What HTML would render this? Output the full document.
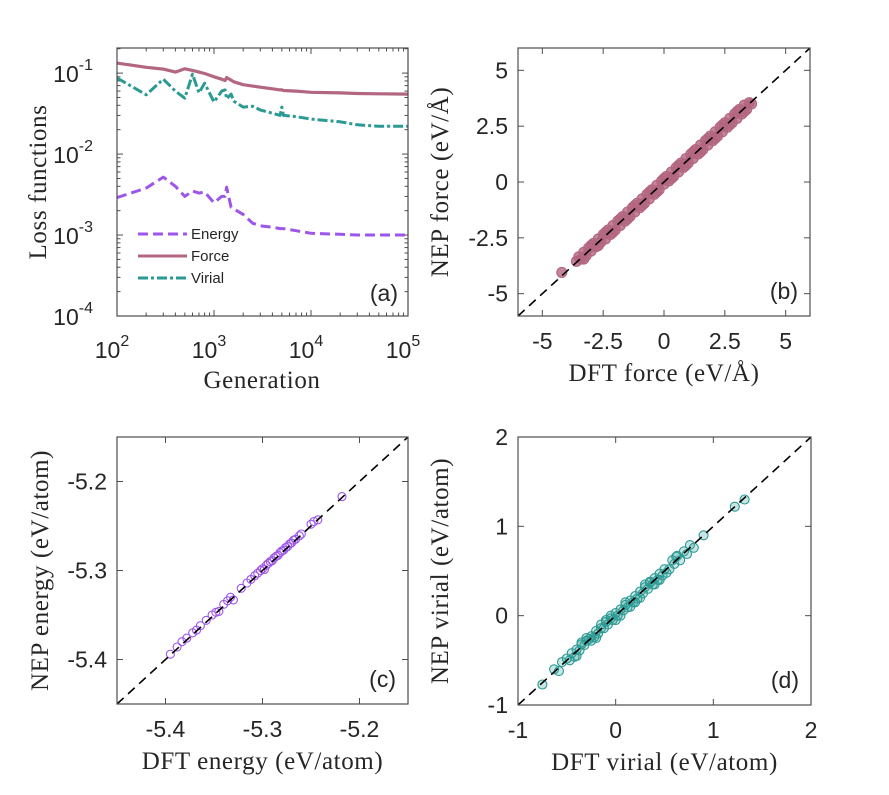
<!DOCTYPE html>
<html><head><meta charset="utf-8">
<style>
body{margin:0;background:#fff;}
svg{display:block;font-family:"Liberation Sans",Arial,sans-serif;}
.t{font-size:23px;fill:#262626;}
.ser{font-family:"Liberation Serif","Times New Roman",serif;font-size:25px;letter-spacing:0.6px;fill:#262626;}
</style></head>
<body>
<svg id="fig" width="889" height="795" viewBox="0 0 889 795">
</svg>
<script>
// ---------- Panel (a) data ----------
const lossGens = [100,200,300,400,500,600,700,800,1000,1200,1300,1350,1500,1600,2000,2500,3000,4000,4800,5000,5200,7000,10000,20000,30000,50000,100000];
const lossForce = [0.133,0.118,0.112,0.103,0.113,0.108,0.103,0.099,0.090,0.084,0.081,0.088,0.082,0.078,0.072,0.069,0.067,0.064,0.062,0.062,0.061,0.060,0.058,0.057,0.056,0.0555,0.055];
const lossVirial = [0.087,0.054,0.084,0.060,0.049,0.097,0.057,0.075,0.044,0.060,0.062,0.048,0.055,0.045,0.038,0.039,0.035,0.032,0.030,0.038,0.030,0.029,0.027,0.025,0.023,0.022,0.022];
const lossEnergy = [0.0029,0.0038,0.0052,0.0040,0.0030,0.0035,0.0033,0.0034,0.0025,0.0030,0.0030,0.0039,0.0022,0.0021,0.0018,0.0014,0.0013,0.00125,0.0012,0.0012,0.0012,0.00113,0.00105,0.00102,0.001,0.001,0.001];
const logXTicks = ["2","3","4","5"];
const logYTicks = ["-4","-3","-2","-1"];
// ---------- Panel (b) data: DFT force vs NEP force ----------
const forceDFT = [-4.2,-3.6,-3.5,-3.4,-3.3,-3.2,-3.1,-3.0,-2.9,-2.8,-2.7,-2.6,-2.5,-2.4,-2.3,-2.2,-2.1,-2.0,-1.9,-1.8,-1.7,-1.6,-1.5,-1.4,-1.3,-1.2,-1.1,-1.0,-0.9,-0.8,-0.7,-0.6,-0.5,-0.4,-0.3,-0.2,-0.1,0.0,0.1,0.2,0.3,0.4,0.5,0.6,0.7,0.8,0.9,1.0,1.1,1.2,1.3,1.4,1.5,1.6,1.7,1.8,1.9,2.0,2.1,2.2,2.3,2.4,2.5,2.6,2.7,2.8,2.9,3.0,3.1,3.2,3.3,3.4,3.5,3.6,
 -3.3,-3.0,-2.7,-2.4,-2.1,-1.8,-1.5,-1.2,-0.9,-0.6,-0.3,0.0,0.3,0.6,0.9,1.2,1.5,1.8,2.1,2.4,2.7,3.0,3.3];
const forceNEP = [-4.05,-3.55,-3.35,-3.45,-3.15,-3.3,-2.95,-3.1,-2.75,-2.9,-2.55,-2.7,-2.35,-2.55,-2.15,-2.35,-1.95,-2.15,-1.75,-1.95,-1.55,-1.75,-1.35,-1.55,-1.15,-1.35,-0.95,-1.15,-0.75,-0.95,-0.55,-0.75,-0.35,-0.55,-0.15,-0.35,0.05,-0.1,0.25,0.05,0.45,0.25,0.65,0.45,0.85,0.65,1.05,0.85,1.25,1.05,1.45,1.25,1.65,1.45,1.85,1.65,2.05,1.85,2.25,2.05,2.45,2.25,2.65,2.45,2.85,2.65,3.05,2.85,3.25,3.05,3.45,3.25,3.55,3.5,
 -3.45,-2.85,-2.85,-2.25,-2.25,-1.65,-1.65,-1.05,-1.05,-0.45,-0.45,0.15,0.15,0.75,0.75,1.35,1.35,1.95,1.95,2.55,2.55,3.15,3.15];
// ---------- Panel (c) data: DFT energy vs NEP energy ----------
const energyDFT = [-5.395,-5.388,-5.383,-5.378,-5.372,-5.368,-5.364,-5.358,-5.352,-5.348,-5.345,-5.340,-5.336,-5.333,-5.330,-5.322,-5.316,-5.312,-5.308,-5.305,-5.302,-5.300,-5.298,-5.296,-5.294,-5.292,-5.290,-5.288,-5.286,-5.284,-5.282,-5.280,-5.278,-5.276,-5.274,-5.272,-5.270,-5.268,-5.266,-5.262,-5.260,-5.250,-5.247,-5.243,-5.218];
const energyNEP = [-5.394,-5.386,-5.380,-5.376,-5.370,-5.367,-5.362,-5.356,-5.350,-5.347,-5.346,-5.338,-5.334,-5.330,-5.333,-5.320,-5.314,-5.310,-5.306,-5.303,-5.300,-5.298,-5.299,-5.294,-5.292,-5.290,-5.289,-5.286,-5.284,-5.283,-5.280,-5.278,-5.277,-5.274,-5.273,-5.270,-5.269,-5.266,-5.265,-5.261,-5.259,-5.248,-5.245,-5.243,-5.217];
// ---------- Panel (d) data: DFT virial vs NEP virial ----------
const virialDFT = [-0.75,-0.63,-0.58,-0.55,-0.50,-0.47,-0.45,-0.42,-0.40,-0.37,-0.35,-0.32,-0.30,-0.27,-0.25,-0.22,-0.20,-0.18,-0.15,-0.12,-0.10,-0.08,-0.05,-0.03,0.0,0.02,0.05,0.08,0.10,0.12,0.15,0.18,0.20,0.22,0.25,0.28,0.30,0.33,0.35,0.38,0.40,0.43,0.45,0.48,0.50,0.55,0.58,0.60,0.63,0.66,0.70,0.73,0.76,0.80,0.90,1.22,1.32,
 -0.40,-0.30,-0.20,-0.10,0.0,0.10,0.20,0.30,0.40,-0.15,0.05,0.25,0.45,-0.35,-0.25,-0.05,0.15,0.35,0.52,0.62];
const virialNEP = [-0.77,-0.60,-0.62,-0.52,-0.48,-0.50,-0.42,-0.46,-0.38,-0.39,-0.32,-0.33,-0.28,-0.26,-0.23,-0.24,-0.17,-0.20,-0.14,-0.14,-0.07,-0.10,-0.03,-0.05,0.03,0.0,0.07,0.06,0.12,0.09,0.17,0.15,0.22,0.19,0.27,0.25,0.32,0.30,0.37,0.35,0.42,0.40,0.47,0.45,0.52,0.52,0.62,0.58,0.67,0.62,0.72,0.69,0.79,0.76,0.90,1.22,1.30,
 -0.45,-0.25,-0.25,-0.05,-0.05,0.15,0.15,0.35,0.35,-0.10,0.0,0.20,0.40,-0.30,-0.28,0.0,0.10,0.38,0.48,0.66];
const linTicksB = ["-5","-2.5","0","2.5","5"];
const linTicksC = ["-5.4","-5.3","-5.2"];
const linTicksD = ["-1","0","1","2"];

const NS="http://www.w3.org/2000/svg";
const svg=document.getElementById('fig');
function el(tag,attrs,parent){const e=document.createElementNS(NS,tag);for(const k in attrs)e.setAttribute(k,attrs[k]);(parent||svg).appendChild(e);return e;}

function makeAxes(name){
  const g=el('g',{});
  
  
  return g;
}
function frame(g,L,R,T,B){
  const f=el('rect',{x:L,y:T,width:R-L,height:B-T,fill:'none',stroke:'#4d4d4d','stroke-width':1.2},g);
  
  
}
function txt(g,x,y,s,cls,anchor,name,rot){
  const t=el('text',{x:x,y:y,class:cls,'text-anchor':anchor||'middle'},g);
  if(rot)t.setAttribute('transform','rotate(-90 '+x+' '+y+')');
  t.textContent=s;
  
  
  return t;
}

// ===== Panel (a) =====
(function(){
  const L=117,R=408,T=48,B=316;
  const g=makeAxes('panel-a-loss');
  const xs=v=>L+(Math.log10(v)-2)/3*(R-L);
  const ymin=-4,ymax=-0.69;
  const ys=v=>B-(Math.log10(v)-ymin)/(ymax-ymin)*(B-T);
  for(let d=2;d<=5;d++){
    for(let m=1;m<=9;m++){
      const v=Math.pow(10,d)*m; if(v>1e5)break;
      const x=xs(v),len=m===1?6:3.5;
      el('line',{x1:x,x2:x,y1:B,y2:B-len,stroke:'#4d4d4d'},g);
      el('line',{x1:x,x2:x,y1:T,y2:T+len,stroke:'#4d4d4d'},g);
    }
  }
  for(let d=-4;d<=-1;d++){
    for(let m=1;m<=9;m++){
      const v=Math.pow(10,d)*m; if(ys(v)<T)break;
      const y=ys(v),len=m===1?6:3.5;
      el('line',{x1:L,x2:L+len,y1:y,y2:y,stroke:'#4d4d4d'},g);
      el('line',{x1:R,x2:R-len,y1:y,y2:y,stroke:'#4d4d4d'},g);
    }
  }
  logXTicks.forEach(e=>{
    const x=xs(Math.pow(10,+e));
    const t=txt(g,x-5,358,'10','t','middle','x-tick-label');
    const s=el('tspan',{dy:-12,'font-size':16},t);s.textContent=e;
  });
  logYTicks.forEach(e=>{
    const y=ys(Math.pow(10,+e));
    const t=txt(g,L-24,y+9,'10','t','end','y-tick-label');
    const s=el('tspan',{dy:-12,'font-size':16},t);s.textContent=e;
  });
  function series(vals,color,dash,name,w){
    const pts=lossGens.map((x,i)=>xs(x).toFixed(1)+','+ys(vals[i]).toFixed(1)).join(' ');
    const p=el('polyline',{points:pts,fill:'none',stroke:color,'stroke-width':w,'stroke-dasharray':dash,'stroke-linejoin':'round'},g);
    
    
  }
  series(lossEnergy,'#9d55ea','10 5','energy-loss-line',3);
  series(lossVirial,'#2b9a93','10 3 3 3','virial-loss-line',3);
  series(lossForce,'#b3667f','','force-loss-line',3.2);
  frame(g,L,R,T,B);
  const lg=el('g',{},g);
  
  
  const ent=[['Energy','#9d55ea','10 5',234],['Force','#b3667f','',256],['Virial','#2b9a93','10 3 3 3',278]];
  ent.forEach(e=>{
    el('line',{x1:138,x2:187,y1:e[3],y2:e[3],stroke:e[1],'stroke-width':3,'stroke-dasharray':e[2]},lg);
    const t=el('text',{x:191,y:e[3]+5,'font-size':15,fill:'#262626'},lg);t.textContent=e[0];
    
    
  });
  txt(g,398,301,'(a)','t','end','panel-label-a');
  txt(g,46,182,'Loss functions','ser','middle','y-axis-title',true);
  txt(g,262,388,'Generation','ser','middle','x-axis-title');
})();

// ===== scatter panels =====
function scatterPanel(o){
  const {L,R,T,B,xmin,xmax,ymin,ymax}=o;
  const g=makeAxes(o.name);
  const xs=v=>L+(v-xmin)/(xmax-xmin)*(R-L);
  const ys=v=>B-(v-ymin)/(ymax-ymin)*(B-T);
  o.ticks.forEach(s=>{
    const v=parseFloat(s);
    const x=xs(v),y=ys(v);
    el('line',{x1:x,x2:x,y1:B,y2:B-6,stroke:'#4d4d4d'},g);
    el('line',{x1:x,x2:x,y1:T,y2:T+6,stroke:'#4d4d4d'},g);
    el('line',{x1:L,x2:L+6,y1:y,y2:y,stroke:'#4d4d4d'},g);
    el('line',{x1:R,x2:R-6,y1:y,y2:y,stroke:'#4d4d4d'},g);
    txt(g,x,B+33,s,'t','middle','x-tick-label');
    txt(g,L-10,y+8,s,'t','end','y-tick-label');
  });
  const pg=el('g',{},g);
  
  
  o.xd.forEach((xv,i)=>{
    const c=el('circle',{cx:xs(xv).toFixed(1),cy:ys(o.yd[i]).toFixed(1),r:o.r||4,fill:o.fill||'none',stroke:o.color,'stroke-width':1.1},pg);
    
    
  });
  const lo=Math.max(xmin,ymin),hi=Math.min(xmax,ymax);
  const d=el('line',{x1:xs(lo),y1:ys(lo),x2:xs(hi),y2:ys(hi),stroke:'#000','stroke-width':1.6,'stroke-dasharray':'9 6'},g);
  
  
  frame(g,L,R,T,B);
  txt(g,R-12,B-17,o.label,'t','end','panel-label');
  txt(g,o.ylx,(T+B)/2,o.ytitle,'ser','middle','y-axis-title',true);
  txt(g,(L+R)/2,B+65,o.xtitle,'ser','middle','x-axis-title');
}
scatterPanel({name:'panel-b-force',L:518,R:810,T:48,B:316,xmin:-6,xmax:6,ymin:-6,ymax:6,ticks:linTicksB,xd:forceDFT,yd:forceNEP,color:'#b3667f',fill:'rgba(179,102,127,0.8)',r:5,label:'(b)',ytitle:'NEP force (eV/Å)',xtitle:'DFT force (eV/Å)',ylx:448});
scatterPanel({name:'panel-c-energy',L:117,R:408,T:437,B:704,xmin:-5.45,xmax:-5.15,ymin:-5.45,ymax:-5.15,ticks:linTicksC,xd:energyDFT,yd:energyNEP,color:'#9d55ea',label:'(c)',ytitle:'NEP energy (eV/atom)',xtitle:'DFT energy (eV/atom)',ylx:48});
scatterPanel({name:'panel-d-virial',L:518,R:811,T:437,B:705,xmin:-1,xmax:2,ymin:-1,ymax:2,ticks:linTicksD,xd:virialDFT,yd:virialNEP,color:'#2b9a93',fill:'rgba(43,154,147,0.25)',r:4.5,label:'(d)',ytitle:'NEP virial (eV/atom)',xtitle:'DFT virial (eV/atom)',ylx:448});
</script>
</body></html>
